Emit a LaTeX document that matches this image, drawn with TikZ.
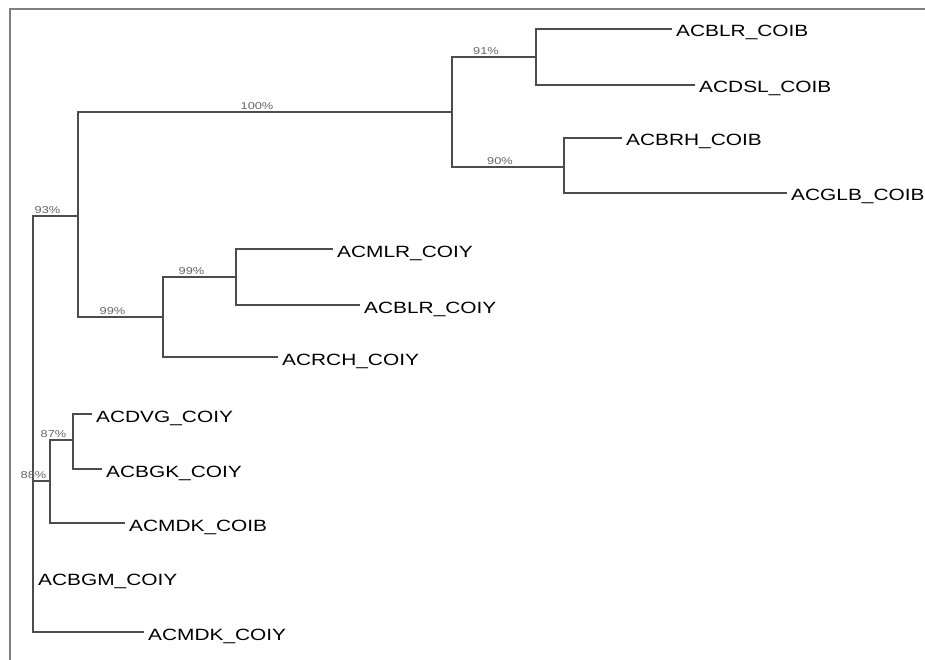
\documentclass[tikz,border=0pt]{standalone}
\usepackage{fontspec}
\setmainfont{Liberation Sans}[FakeStretch=1.28]
\begin{document}
\begin{tikzpicture}[x=1pt,y=-1pt,
    branch/.style={draw=black!70, line width=1.25pt},
    leaf/.style={anchor=west, inner xsep=4pt, inner ysep=0pt, text height=16pt, text depth=0pt, font=\fontsize{16.3}{18}\selectfont},
    pct/.style={anchor=south, inner sep=1.5pt, xshift=-8pt, text=black!60, font=\fontsize{10}{11}\selectfont}]
    \useasboundingbox (0,0) rectangle (925,660);
    % frame
    \draw[gray, line width=2pt] (10,660) -- (10,9) -- (925,9);
    % internal nodes
    \coordinate (root) at (33,481);
    \coordinate (n93) at (78,216);
    \coordinate (n100) at (452,112);
    \coordinate (n91) at (536,57);
    \coordinate (n90) at (564,167);
    \coordinate (n99a) at (163,317);
    \coordinate (n99b) at (236,277);
    \coordinate (n88) at (50,481);
    \coordinate (n87) at (73,440);
    % leaves
    \node[leaf] (blrB) at (672,29) {ACBLR\_COIB};
    \node[leaf] (dslB) at (695,85) {ACDSL\_COIB};
    \node[leaf] (brhB) at (622,138) {ACBRH\_COIB};
    \node[leaf] (glbB) at (787,193) {ACGLB\_COIB};
    \node[leaf] (mlrY) at (333,249) {ACMLR\_COIY};
    \node[leaf] (blrY) at (360,305) {ACBLR\_COIY};
    \node[leaf] (rchY) at (278,357) {ACRCH\_COIY};
    \node[leaf] (dvgY) at (92,414) {ACDVG\_COIY};
    \node[leaf] (bgkY) at (102,469) {ACBGK\_COIY};
    \node[leaf] (mdkB) at (125,523) {ACMDK\_COIB};
    \node[leaf] (bgmY) at (34,577) {ACBGM\_COIY};
    \node[leaf] (mdkY) at (144,632) {ACMDK\_COIY};
    % branches
    \draw[branch] (root) |- node[pct,pos=.75] {93\%} (n93)
                  (root) |- node[pct,pos=.75] {88\%} (n88)
                  (root) |- (bgmY)
                  (root) |- (mdkY);
    \draw[branch] (n93) |- node[pct,pos=.75] {100\%} (n100)
                  (n93) |- node[pct,pos=.75] {99\%} (n99a);
    \draw[branch] (n100) |- node[pct,pos=.75] {91\%} (n91)
                  (n100) |- node[pct,pos=.75] {90\%} (n90);
    \draw[branch] (n91) |- (blrB) (n91) |- (dslB);
    \draw[branch] (n90) |- (brhB) (n90) |- (glbB);
    \draw[branch] (n99a) |- node[pct,pos=.75] {99\%} (n99b)
                  (n99a) |- (rchY);
    \draw[branch] (n99b) |- (mlrY) (n99b) |- (blrY);
    \draw[branch] (n88) |- node[pct,pos=.75] {87\%} (n87)
                  (n88) |- (mdkB);
    \draw[branch] (n87) |- (dvgY) (n87) |- (bgkY);
\end{tikzpicture}
\end{document}
